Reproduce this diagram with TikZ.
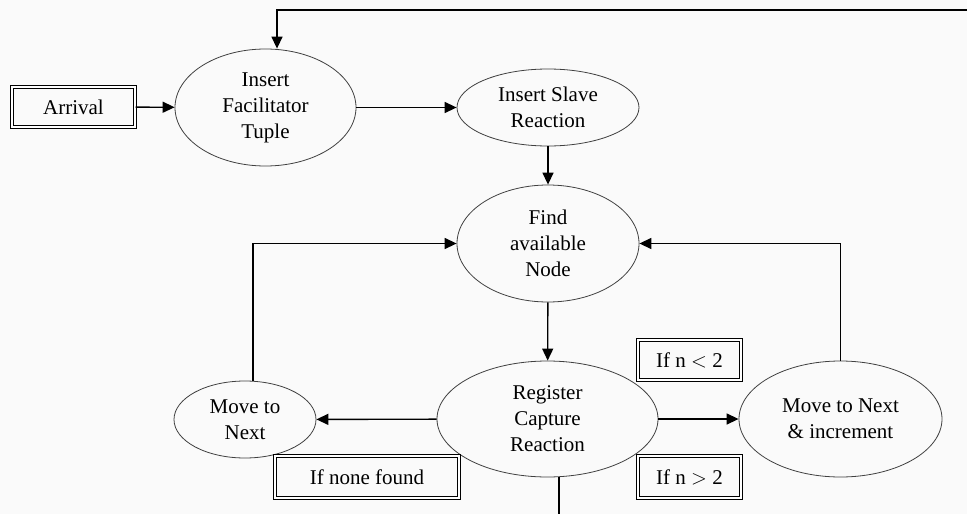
\documentclass[tikz,border=0pt]{standalone}
\usepackage{fontspec}
\setmainfont{Liberation Serif}
\usetikzlibrary{shapes.geometric,arrows.meta}
\tikzset{
  oval/.style={ellipse, draw=black!75, line width=0.8pt, inner sep=0pt, align=center},
  condbox/.style={rectangle, draw, double, double distance=2pt, line width=1.2pt, inner sep=0pt},
  flow/.style={line width=1.4pt, -{Triangle[length=12pt,width=11pt]}},
  plain/.style={line width=1.4pt}
}
\begin{document}
\begin{tikzpicture}[x=1pt, y=-1pt, font=\fontsize{21}{26}\selectfont]
      \useasboundingbox[fill=black!2] (0, 0) rectangle (967, 514);
      % states
      \node[condbox, minimum width=123pt, minimum height=40pt] (arrival) at (73.5, 107) {Arrival};
      \node[oval, minimum width=181pt, minimum height=117pt] (fac) at (265.5, 107.5) {Insert\\Facilitator\\Tuple};
      \node[oval, minimum width=182pt, minimum height=77pt] (slave) at (548, 107.5) {Insert Slave\\Reaction};
      \node[oval, minimum width=182pt, minimum height=117pt] (find) at (548, 243.5) {Find\\available\\Node};
      \node[oval, minimum width=221pt, minimum height=116pt] (reg) at (547.5, 419) {Register\\Capture\\Reaction};
      \node[oval, minimum width=142pt, minimum height=77pt] (mtn) at (245, 419.5) {Move to\\Next};
      \node[oval, minimum width=203pt, minimum height=116pt] (inc) at (840.5, 419) {Move to Next\\\& increment};
      % conditions
      \node[condbox, minimum width=184pt, minimum height=42pt] (none) at (367, 477) {If none found};
      \node[condbox, minimum width=103pt, minimum height=40pt] (nlt) at (689.5, 360) {If n $<$ 2};
      \node[condbox, minimum width=103pt, minimum height=42pt] (ngt) at (689.5, 477) {If n $>$ 2};
      \coordinate (loop) at (967, 10);
      \coordinate (exit) at (559, 514);
      % connectors
      \draw[flow] (arrival) -- (fac);
      \draw[flow] (fac) -- (slave);
      \draw[flow] (slave) -- (find);
      \draw[flow] (find) -- (reg);
      \draw[flow] (reg) -- (mtn);
      \draw[flow] (reg) -- (inc);
      \draw[flow] ([xshift=8pt]mtn.north) |- (find.west);
      \draw[flow] (inc.north) |- (find.east);
      \draw[flow] (loop) -| ([xshift=11.5pt]fac.north);
      \draw[plain] (exit |- reg.south) -- (exit);
    \end{tikzpicture}
\end{document}
